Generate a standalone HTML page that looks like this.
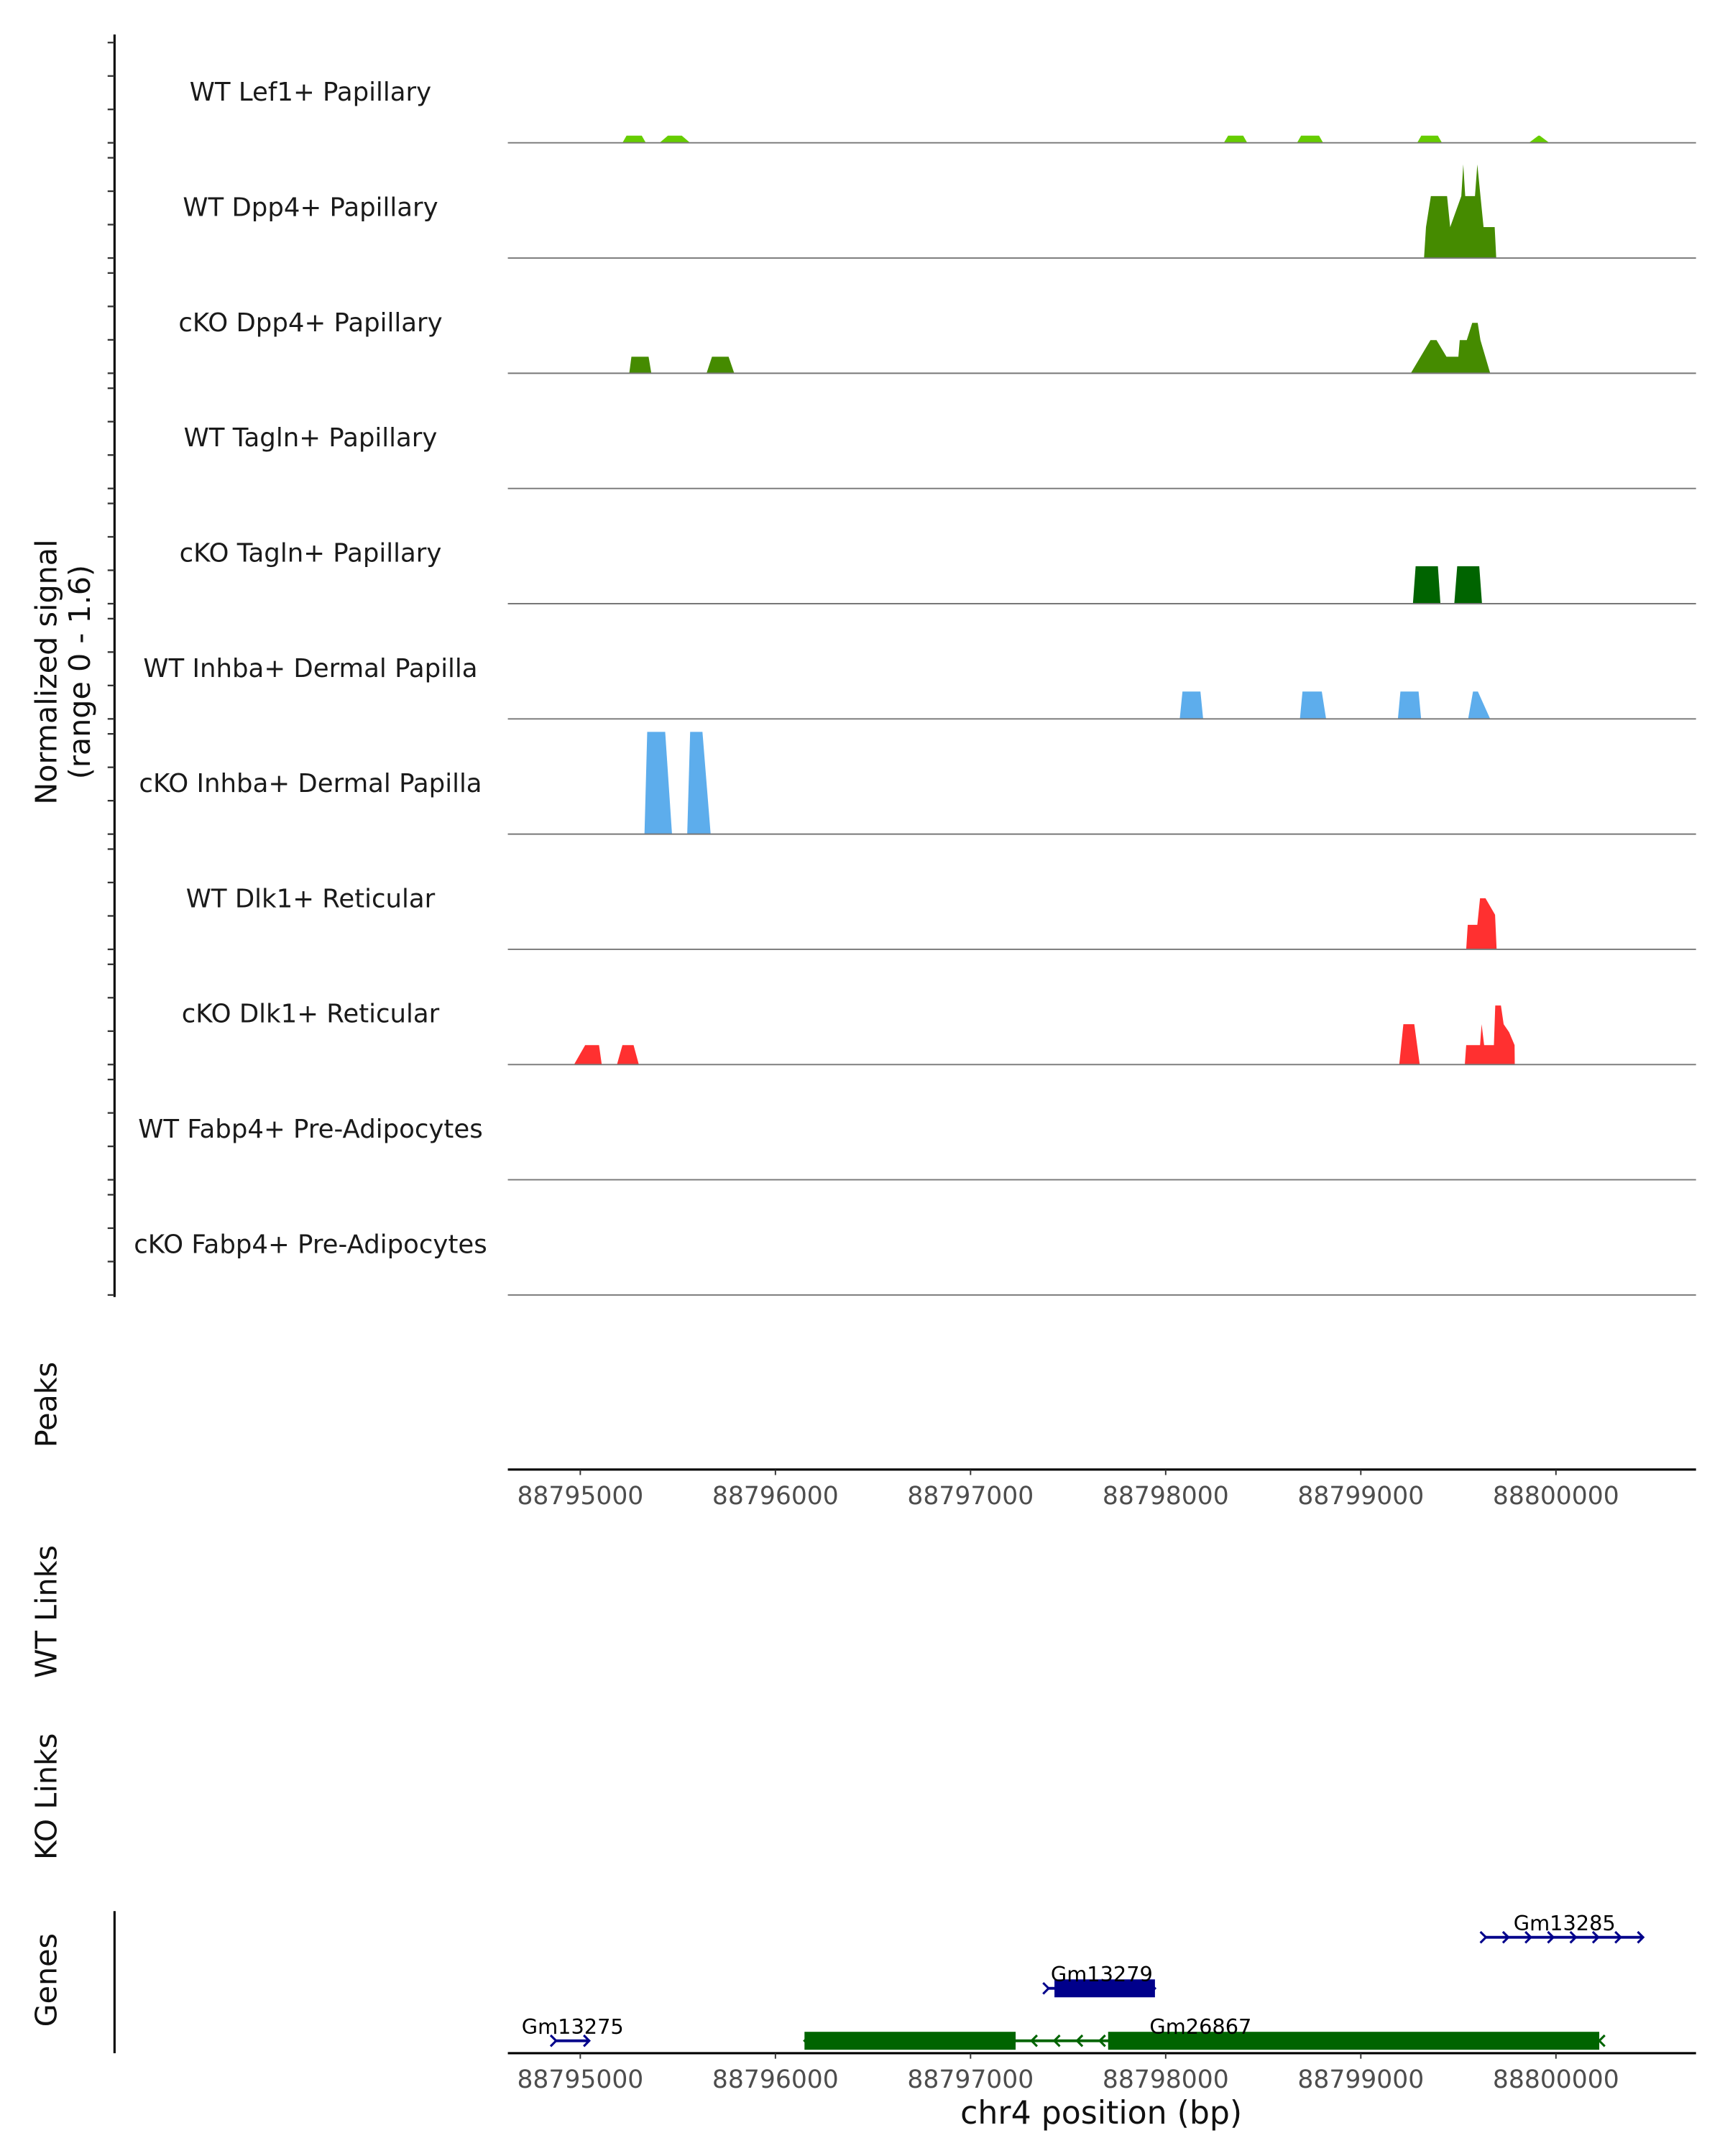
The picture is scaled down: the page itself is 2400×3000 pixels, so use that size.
<!DOCTYPE html>
<html><head><meta charset="utf-8"><style>
html,body{margin:0;padding:0;background:#fff}
svg{display:block}
text{font-family:"DejaVu Sans","Liberation Sans",sans-serif}
</style></head><body>
<svg id="chart" width="2400" height="3000" viewBox="0 0 1250 1562.5" xmlns="http://www.w3.org/2000/svg">
<g id="tracks"></g>
<g id="axes"></g>
<g id="genes"></g>
</svg>
<script>
// ---- data ----
const trackNames = ["WT Lef1+ Papillary","WT Dpp4+ Papillary","cKO Dpp4+ Papillary","WT Tagln+ Papillary","cKO Tagln+ Papillary","WT Inhba+ Dermal Papilla","cKO Inhba+ Dermal Papilla","WT Dlk1+ Reticular","cKO Dlk1+ Reticular","WT Fabp4+ Pre-Adipocytes","cKO Fabp4+ Pre-Adipocytes"];
const trackColors = ["#66CD00","#458B00","#458B00","#006400","#006400","#5DADEC","#5DADEC","#FF3030","#FF3030","#FFB000","#FFB000"];
const base = 88795000;
// peaks: offset bp from base, value
const lef1Peaks = [
 [[216,0],[237,0.1],[315,0.1],[336,0]],
 [[406,0],[449,0.1],[520,0.1],[563,0]],
 [[3298,0],[3320,0.1],[3397,0.1],[3418,0]],
 [[3673,0],[3694,0.1],[3786,0.1],[3807,0]],
 [[4289,0],[4310,0.1],[4395,0.1],[4416,0]],
 [[4861,0],[4910,0.1],[4917,0.1],[4966,0]]];
const wtDpp4Peaks = [
 [[4324,0],[4334,0.43],[4359,0.86],[4442,0.86],[4458,0.43],[4515,0.86],[4525,1.3],[4535,0.86],[4585,0.86],[4597,1.3],[4629,0.43],[4686,0.43],[4694,0]]];
const koDpp4Peaks = [
 [[251,0],[262,0.23],[350,0.23],[364,0]],
 [[647,0],[675,0.23],[760,0.23],[789,0]],
 [[4256,0],[4357,0.46],[4388,0.46],[4439,0.23],[4500,0.23],[4507,0.46],[4543,0.46],[4571,0.7],[4599,0.7],[4613,0.46],[4663,0]]];
const wtTaglnPeaks = [];
const koTaglnPeaks = [
 [[4267,0],[4281,0.52],[4395,0.52],[4408,0]],
 [[4479,0],[4494,0.52],[4607,0.52],[4621,0]]];
const wtInhbaPeaks = [
 [[3072,0],[3086,0.38],[3178,0.38],[3192,0]],
 [[3688,0],[3701,0.38],[3800,0.38],[3822,0]],
 [[4190,0],[4203,0.38],[4296,0.38],[4309,0]],
 [[4550,0],[4575,0.38],[4600,0.38],[4663,0]]];
const koInhbaPeaks = [
 [[329,0],[343,1.42],[435,1.42],[470,0]],
 [[548,0],[563,1.42],[626,1.42],[668,0]]];
const wtDlk1Peaks = [
 [[4540,0],[4548,0.34],[4597,0.34],[4611,0.71],[4639,0.71],[4688,0.48],[4696,0]]];
const koDlk1Peaks = [
 [[-32,0],[25,0.27],[96,0.27],[110,0]],
 [[188,0],[216,0.27],[273,0.27],[300,0]],
 [[4197,0],[4218,0.56],[4274,0.56],[4302,0]],
 [[4533,0],[4540,0.27],[4611,0.27],[4619,0.56],[4632,0.27],[4682,0.27],[4689,0.82],[4718,0.82],[4732,0.56],[4760,0.45],[4788,0.27],[4789,0]]];
const wtFabp4Peaks = [];
const koFabp4Peaks = [];
const allPeaks = [lef1Peaks,wtDpp4Peaks,koDpp4Peaks,wtTaglnPeaks,koTaglnPeaks,wtInhbaPeaks,koInhbaPeaks,wtDlk1Peaks,koDlk1Peaks,wtFabp4Peaks,koFabp4Peaks];
const xTicks = [88795000,88796000,88797000,88798000,88799000,88800000];
const geneNames = ["Gm13275","Gm26867","Gm13279","Gm13285"];
const geneStarts = [-124,1149,2400,4641];
const geneEnds = [46,5222,2945,5447];
const geneStrand = [1,-1,1,1];
const geneRow = [0,0,1,2];
const geneColors = ["#00008B","#006400","#00008B","#00008B"];
const geneExons = [[],[[1149,2231],[2705,5222]],[[2430,2945]],[]];

// ---- scales ----
const X0 = 420.5, PXBP = 0.1414;
const x = bp => X0 + (bp - base) * PXBP;
const xo = off => X0 + off * PXBP;
const trackTop = 20, trackH = 83.5, yMax = 1.6;
const baseY = i => trackTop + (i+1)*trackH;
const yv = (i,v) => baseY(i) - v/yMax*trackH;
const NS = "http://www.w3.org/2000/svg";
function mk(tag, attrs, parent){const e=document.createElementNS(NS,tag);for(const k in attrs)e.setAttribute(k,attrs[k]);parent.appendChild(e);return e;}

const tg = document.getElementById('tracks');
trackNames.forEach((nm,i)=>{
  const g = mk('g',{},tg);
  
  
  allPeaks[i].forEach(pk=>{
    const pts = pk.map(p=>xo(p[0]).toFixed(2)+','+yv(i,p[1]).toFixed(2)).join(' ');
    const p = mk('polygon',{points:pts,fill:trackColors[i]},g);
    
    
  });
  const l = mk('line',{x1:368,x2:1229,y1:baseY(i),y2:baseY(i),stroke:'#777','stroke-width':1},g);
  
  
  const t = mk('text',{x:225,y:baseY(i)-30.5,'text-anchor':'middle','font-size':18.5,fill:'#1a1a1a'},g);
  t.textContent = nm;
  
  
});

const ax = document.getElementById('axes');
let l = mk('line',{x1:83,x2:83,y1:25,y2:940,stroke:'#000','stroke-width':1.6},ax);


for(let i=0;i<11;i++){
  [0,0.4,0.8,1.2].forEach(v=>{
    const yy = baseY(i) - v/yMax*trackH*1.16;
    const tk = mk('line',{x1:78,x2:83,y1:yy,y2:yy,stroke:'#333','stroke-width':1.2},ax);
    
    
  });
}
let t = mk('text',{transform:'translate(41,487) rotate(-90)','text-anchor':'middle','font-size':21.5,fill:'#111'},ax);
t.textContent='Normalized signal';


t = mk('text',{transform:'translate(65,487) rotate(-90)','text-anchor':'middle','font-size':21.5,fill:'#111'},ax);
t.textContent='(range 0 - 1.6)';


[['Peaks',1018,'peaks-title'],['WT Links',1168,'wt-links-title'],['KO Links',1302,'ko-links-title'],['Genes',1435,'genes-title']].forEach(a=>{
  const tt = mk('text',{transform:'translate(41,'+a[1]+') rotate(-90)','text-anchor':'middle','font-size':21.5,fill:'#111'},ax);
  tt.textContent=a[0];
  
  
});
function xAxis(yy, name){
  const g = mk('g',{},ax);
  
  
  mk('line',{x1:368,x2:1229,y1:yy,y2:yy,stroke:'#000','stroke-width':1.6},g);
  xTicks.forEach(v=>{
    mk('line',{x1:x(v),x2:x(v),y1:yy,y2:yy+4,stroke:'#333','stroke-width':1},g);
    const tl = mk('text',{x:x(v),y:yy+25,'text-anchor':'middle','font-size':18,fill:'#4d4d4d'},g);
    tl.textContent=v;
    
    
  });
}
xAxis(1065,'peaks-x-axis');
xAxis(1488,'genes-x-axis');
l = mk('line',{x1:83,x2:83,y1:1385,y2:1488,stroke:'#000','stroke-width':1.6},ax);


t = mk('text',{x:798,y:1539,'text-anchor':'middle','font-size':23,fill:'#111'},ax);
t.textContent='chr4 position (bp)';



// genes
const gg = document.getElementById('genes');
const rowY = [1479,1441,1404];
geneNames.forEach((nm,i)=>{
  const g = mk('g',{},gg);
  
  
  const yy = rowY[geneRow[i]], c = geneColors[i];
  const x1 = xo(geneStarts[i]), x2 = xo(geneEnds[i]);
  mk('line',{x1:x1,x2:x2,y1:yy,y2:yy,stroke:c,'stroke-width':2},g);
  const n = Math.max(1,Math.floor((x2-x1)/16));
  for(let k=0;k<=n;k++){
    const ax2 = x1 + (x2-x1)*k/n;
    const d = geneStrand[i]*4;
    mk('polyline',{points:(ax2-d)+','+(yy-4)+' '+ax2+','+yy+' '+(ax2-d)+','+(yy+4),fill:'none',stroke:c,'stroke-width':1.6},g);
  }
  geneExons[i].forEach(ex=>{
    const r = mk('rect',{x:xo(ex[0]),y:yy-6.5,width:xo(ex[1])-xo(ex[0]),height:13,fill:c},g);
    
    
  });
  const lx = geneExons[i].length>1 ? 870 : (x1+x2)/2;
  const tl = mk('text',{x:lx,y:yy-5,'text-anchor':'middle','font-size':15,fill:'#000'},g);
  tl.textContent=nm;
  
  
});
</script>
</body></html>
